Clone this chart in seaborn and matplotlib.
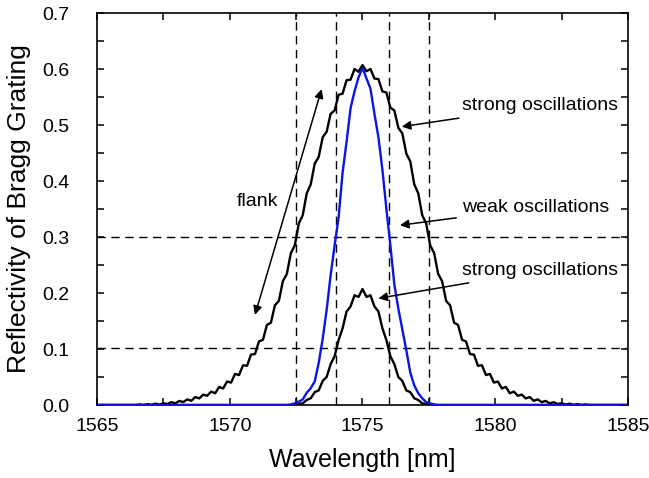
import matplotlib
matplotlib.use("Agg")
import matplotlib.pyplot as plt
import pandas as pd
import seaborn as sns
from matplotlib.ticker import MultipleLocator, FormatStrFormatter

# Wavelength grid of the measured spectra [nm]
wavelength_nm = [
    1565.00,
    1566.00, 1566.15, 1566.30, 1566.45, 1566.60, 1566.75, 1566.90, 1567.05, 1567.20, 1567.35,
    1567.50, 1567.65, 1567.80, 1567.95, 1568.10, 1568.25, 1568.40, 1568.55, 1568.70, 1568.85,
    1569.00, 1569.15, 1569.30, 1569.45, 1569.60, 1569.75, 1569.90, 1570.05, 1570.20, 1570.35,
    1570.50, 1570.65, 1570.80, 1570.95, 1571.10, 1571.25, 1571.40, 1571.55, 1571.70, 1571.85,
    1572.00, 1572.15, 1572.30, 1572.45, 1572.60, 1572.75, 1572.90, 1573.05, 1573.20, 1573.35,
    1573.50, 1573.65, 1573.80, 1573.95, 1574.10, 1574.25, 1574.40, 1574.55, 1574.70, 1574.85,
    1575.00, 1575.15, 1575.30, 1575.45, 1575.60, 1575.75, 1575.90, 1576.05, 1576.20, 1576.35,
    1576.50, 1576.65, 1576.80, 1576.95, 1577.10, 1577.25, 1577.40, 1577.55, 1577.70, 1577.85,
    1578.00, 1578.15, 1578.30, 1578.45, 1578.60, 1578.75, 1578.90, 1579.05, 1579.20, 1579.35,
    1579.50, 1579.65, 1579.80, 1579.95, 1580.10, 1580.25, 1580.40, 1580.55, 1580.70, 1580.85,
    1581.00, 1581.15, 1581.30, 1581.45, 1581.60, 1581.75, 1581.90, 1582.05, 1582.20, 1582.35,
    1582.50, 1582.65, 1582.80, 1582.95, 1583.10, 1583.25, 1583.40, 1583.55, 1583.70, 1583.85,
    1584.00,
    1585.00,
]

# Broad grating spectrum with strong ripple (peak ~0.6)
reflect_broad = [
    0.0,
    0.000, 0.000, 0.000, 0.000, 0.001, 0.000, 0.0015, 0.0003, 0.0024, 0.0007,
    0.0032, 0.0018, 0.005, 0.003, 0.0073, 0.0052, 0.010, 0.0075, 0.0142, 0.0118,
    0.0185, 0.0165, 0.024, 0.021, 0.0323, 0.0295, 0.042, 0.040, 0.0555, 0.0535,
    0.071, 0.070, 0.090, 0.091, 0.1135, 0.1165, 0.143, 0.147, 0.178, 0.186,
    0.221, 0.234, 0.271, 0.285, 0.324, 0.339, 0.378, 0.394, 0.431, 0.443,
    0.478, 0.488, 0.520, 0.526, 0.554, 0.556, 0.580, 0.581, 0.600, 0.595,
    0.607, 0.596, 0.600, 0.583, 0.582, 0.560, 0.558, 0.531, 0.526, 0.495,
    0.485, 0.449, 0.435, 0.394, 0.378, 0.339, 0.324, 0.285, 0.271, 0.234,
    0.221, 0.186, 0.178, 0.147, 0.143, 0.1165, 0.1135, 0.091, 0.090, 0.070,
    0.071, 0.0535, 0.0555, 0.040, 0.042, 0.0295, 0.0323, 0.021, 0.024, 0.0165,
    0.0185, 0.0118, 0.0142, 0.0075, 0.010, 0.0052, 0.0073, 0.003, 0.005, 0.0018,
    0.0032, 0.0007, 0.0024, 0.0003, 0.0015, 0.000, 0.001, 0.000, 0.000, 0.000,
    0.000,
    0.0,
]

# Narrow, apodised grating (weak ripple, blue)
reflect_apodised = (
    [0.0] * 43
    + [0.001, 0.003, 0.006, 0.010, 0.022, 0.030, 0.042, 0.075, 0.118, 0.170,
       0.232, 0.285, 0.335, 0.415, 0.470, 0.530, 0.560, 0.585, 0.602, 0.583,
       0.565, 0.520, 0.478, 0.420, 0.350, 0.285, 0.215, 0.172, 0.135, 0.098,
       0.058, 0.035, 0.021, 0.012, 0.005, 0.003, 0.001]
    + [0.0] * 43
)

# Weak grating with strong ripple (peak ~0.2)
reflect_weak = (
    [0.0] * 44
    + [0.0005, 0.002, 0.003, 0.009, 0.012, 0.023, 0.026, 0.043, 0.050, 0.073,
       0.087, 0.116, 0.137, 0.167, 0.176, 0.196, 0.193, 0.207, 0.193, 0.196,
       0.176, 0.167, 0.137, 0.116, 0.087, 0.073, 0.050, 0.043, 0.026, 0.023,
       0.012, 0.009, 0.003, 0.002, 0.0005]
    + [0.0] * 44
)

# Dashed guide lines
guide_wavelengths = [1572.5, 1574.0, 1576.0, 1577.5]
guide_reflectivities = [0.3, 0.102]

curve_names = ["broad", "weak", "apodised"]
curve_colors = {"broad": "black", "weak": "black", "apodised": "#0a14e6"}

frames = []
for name, values in zip(curve_names, [reflect_broad, reflect_weak, reflect_apodised]):
    frames.append(pd.DataFrame({"wavelength": wavelength_nm,
                                "reflectivity": values,
                                "curve": name}))
spectra = pd.concat(frames, ignore_index=True)

sns.set_theme(style="ticks")
plt.rcParams["font.family"] = ["Liberation Sans", "DejaVu Sans"]

fig = plt.figure(figsize=(6.49, 4.78), dpi=100)
ax = fig.add_axes([0.1495, 0.1527, 0.8181, 0.8201])

dash = (0, (6, 4))
for wl in guide_wavelengths:
    ax.axvline(wl, color="black", lw=1.0, ls=dash, zorder=1)
for r in guide_reflectivities:
    ax.axhline(r, color="black", lw=1.0, ls=dash, zorder=1)

sns.lineplot(data=spectra, x="wavelength", y="reflectivity", hue="curve",
             hue_order=curve_names, palette=curve_colors, estimator=None,
             sort=False, legend=False, linewidth=1.7, ax=ax, zorder=3)

ax.set_xlim(1565, 1585)
ax.set_ylim(0, 0.7)
ax.xaxis.set_major_locator(MultipleLocator(5))
ax.xaxis.set_minor_locator(MultipleLocator(2.5))
ax.yaxis.set_major_locator(MultipleLocator(0.1))
ax.yaxis.set_minor_locator(MultipleLocator(0.05))
ax.yaxis.set_major_formatter(FormatStrFormatter("%.1f"))
ax.tick_params(which="both", direction="in", top=True, right=True,
               length=5, width=1.1, color="black")
ax.tick_params(which="major", labelsize=14, colors="black")
ax.tick_params(axis="y", which="major", pad=20)
ax.tick_params(axis="x", which="major", pad=9)
for spine in ax.spines.values():
    spine.set_linewidth(1.2)
    spine.set_color("black")

ax.set_xlabel("Wavelength [nm]", fontsize=18, color="black", labelpad=10)
ax.set_ylabel("Reflectivity of Bragg Grating", fontsize=19, color="black", labelpad=8)

arrow = dict(arrowstyle="-|>", color="black", lw=1.1, mutation_scale=13,
             shrinkA=2, shrinkB=0)
ax.annotate("strong oscillations", xy=(1576.48, 0.497), xytext=(1578.76, 0.534),
            ha="left", va="center", fontsize=14, color="black", arrowprops=arrow)
ax.annotate("weak oscillations", xy=(1576.41, 0.321), xytext=(1578.76, 0.353),
            ha="left", va="center", fontsize=14, color="black", arrowprops=arrow)
ax.annotate("strong oscillations", xy=(1575.60, 0.1905), xytext=(1578.76, 0.240),
            ha="left", va="center", fontsize=14, color="black", arrowprops=arrow)

ax.annotate("", xy=(1573.46, 0.564), xytext=(1570.95, 0.161),
            arrowprops=dict(arrowstyle="<|-|>", color="black", lw=1.1,
                            mutation_scale=13, shrinkA=0, shrinkB=0))
ax.text(1571.06, 0.364, "flank", ha="center", va="center", fontsize=14, color="black")

fig.savefig("out.png", dpi=100)
